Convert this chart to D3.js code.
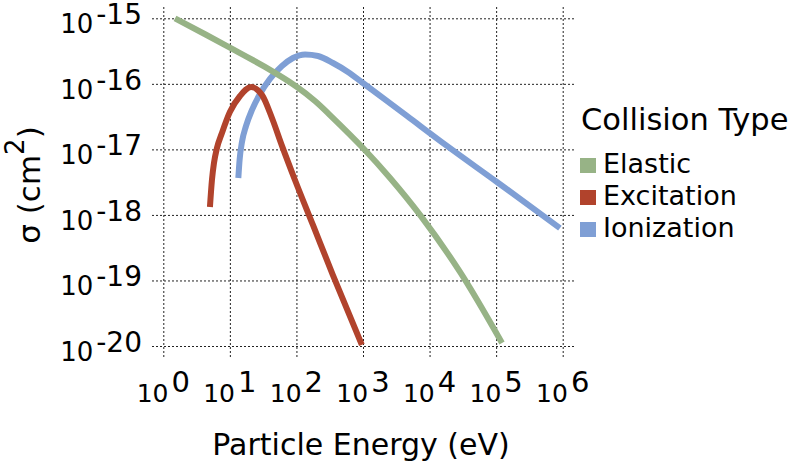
<!DOCTYPE html>
<html><head><meta charset="utf-8">
<script src="https://cdn.jsdelivr.net/npm/d3@7"></script>
<style>body{margin:0;background:#fff} svg{display:block}</style>
</head><body>
<svg id="c" width="792" height="463"></svg>
<script>
// ---- data ----
const xTickExps = [0, 1, 2, 3, 4, 5, 6];
const yTickExps = [-15, -16, -17, -18, -19, -20];
const seriesNames = ["Elastic", "Excitation", "Ionization"];

const elasticEnergy = [1.5, 10, 33.7, 102, 190, 319, 1000, 2550, 7180, 28640, 122500];
const elasticSigma  = [1.0e-15, 3.58e-16, 1.81e-16, 8.95e-17, 5.47e-17, 3.34e-17, 1.05e-17, 3.66e-18, 1.0e-18, 1.35e-19, 1.11e-20];

const excitationEnergy = [5.02, 5.38, 5.77, 6.40, 7.6, 10.0, 14.2, 20.8, 30.4, 42.9, 60.7, 95, 177, 353, 962];
const excitationSigma  = [1.32e-18, 3.41e-18, 6.19e-18, 1.05e-17, 1.78e-17, 3.72e-17, 6.52e-17, 8.93e-17, 6.76e-17, 3.01e-17, 1.13e-17, 3.41e-18, 7.03e-19, 1.21e-19, 1.04e-20];

const ionizationEnergy = [13.4, 14.0, 15.2, 17.5, 21.5, 28.3, 40.0, 60.6, 88.7, 135, 211, 354, 594, 998, 4570, 18240, 102800, 908000];
const ionizationSigma  = [3.66e-18, 6.89e-18, 1.30e-17, 2.28e-17, 4.0e-17, 7.0e-17, 1.19e-16, 1.87e-16, 2.48e-16, 2.81e-16, 2.66e-16, 2.08e-16, 1.52e-16, 1.03e-16, 3.24e-17, 1.13e-17, 3.18e-18, 6.3e-19];

// ---- styles ----
const colors = {Elastic: "#97b386", Excitation: "#b1432c", Ionization: "#7f9fd5"};
const FONT = "DejaVu Sans, sans-serif";

const series = [
  {name: "Elastic", e: elasticEnergy, s: elasticSigma},
  {name: "Excitation", e: excitationEnergy, s: excitationSigma},
  {name: "Ionization", e: ionizationEnergy, s: ionizationSigma}
];

const svg = d3.select("#c");
const x = d3.scaleLog().domain([1, 1e6]).range([163.3, 562.7]);
const y = d3.scaleLog().domain([1e-15, 1e-20]).range([18.3, 346]);

const gridLeft = 152, gridRight = 575, gridTop = 6, gridBottom = 357;

// vertical grid
const gx = svg.append("g").attr("transform", `translate(0,${gridBottom})`)
  .call(d3.axisBottom(x).tickValues(xTickExps.map(e => Math.pow(10, e)))
    .tickSize(-(gridBottom - gridTop)).tickSizeOuter(0).tickFormat(""));
gx.select(".domain").remove();
// horizontal grid
const gy = svg.append("g").attr("transform", `translate(${gridLeft},0)`)
  .call(d3.axisLeft(y).tickValues(yTickExps.map(e => Math.pow(10, e)))
    .tickSize(-(gridRight - gridLeft)).tickSizeOuter(0).tickFormat(""));
gy.select(".domain").remove();
svg.selectAll(".tick line").attr("stroke", "#222").attr("stroke-width", 1).attr("stroke-dasharray", "2,2");

// x tick labels
xTickExps.forEach(ex => {
  const t = svg.append("text").attr("x", x(Math.pow(10, ex))).attr("y", 402)
    .attr("text-anchor", "middle").attr("font-family", FONT).attr("fill", "#000");
  t.append("tspan").attr("font-size", 25).text("10");
  t.append("tspan").attr("font-size", 29).attr("dx", 3).attr("dy", -10).text(String(ex));
});
// y tick labels
yTickExps.forEach(ex => {
  const t = svg.append("text").attr("x", 142).attr("y", y(Math.pow(10, ex)) + 15)
    .attr("text-anchor", "end").attr("font-family", FONT).attr("fill", "#000");
  t.append("tspan").attr("font-size", 26).text("10");
  t.append("tspan").attr("font-size", 28).attr("dx", 3).attr("dy", -9).text(String(ex));
});

// lines
const lineSmooth = d3.line().x(d => x(d[0])).y(d => y(d[1])).curve(d3.curveCatmullRom.alpha(0.5));
const lineMono = d3.line().x(d => x(d[0])).y(d => y(d[1])).curve(d3.curveMonotoneX);
["Ionization", "Excitation", "Elastic"].forEach(n => {
  const sr = series.find(s => s.name === n);
  const pts = sr.e.map((v, i) => [v, sr.s[i]]);
  const gen = n === "Elastic" ? lineSmooth : lineMono;
  svg.append("path").attr("d", gen(pts)).attr("fill", "none")
    .attr("stroke", colors[n]).attr("stroke-width", 6).attr("stroke-linecap", "butt")
    .attr("stroke-linejoin", "round");
});

// axis titles
svg.append("text").attr("x", 361).attr("y", 455).attr("text-anchor", "middle")
  .attr("font-family", FONT).attr("font-size", 30).text("Particle Energy (eV)");
const yt = svg.append("text").attr("transform", "translate(40,185) rotate(-90)")
  .attr("text-anchor", "middle").attr("font-family", FONT).attr("font-size", 31);
yt.append("tspan").text("σ (cm");
yt.append("tspan").attr("font-size", 26).attr("dy", -16).text("2");
yt.append("tspan").attr("dy", 16).text(")");

// legend
svg.append("text").attr("x", 581).attr("y", 130).attr("font-family", FONT)
  .attr("font-size", 30.5).text("Collision Type");
seriesNames.forEach((n, i) => {
  const base = 173 + i * 32;
  svg.append("rect").attr("x", 580).attr("y", base - 15).attr("width", 16).attr("height", 15)
    .attr("fill", colors[n]);
  svg.append("text").attr("x", 603).attr("y", base).attr("font-family", FONT)
    .attr("font-size", 27).text(n);
});
</script>
</body></html>
